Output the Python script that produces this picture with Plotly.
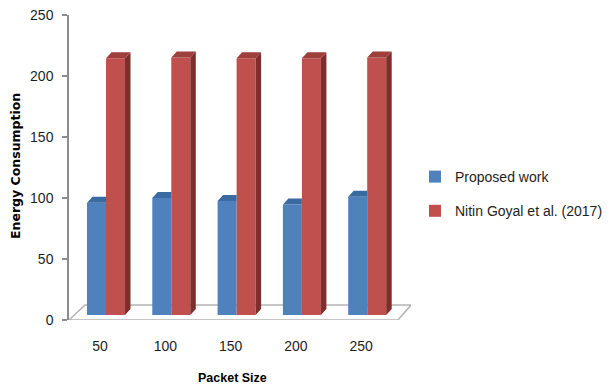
import plotly.graph_objects as go

# ---- data -------------------------------------------------------------
categories = ["50", "100", "150", "200", "250"]
proposed_work = [92, 96, 93.5, 90.5, 97]
goyal_2017 = [210.5, 211, 210.5, 210.5, 211]
y_ticks = [0, 50, 100, 150, 200, 250]

# ---- canvas / plot geometry ------------------------------------------
W, H = 608, 389
L, R, T, B = 69, 197, 15, 69
plot_w = W - L - R
plot_h = H - T - B

px_per_cat = 65.3                  # horizontal distance between groups
x_min = -37 / px_per_cat           # first group sits 37 px right of the value axis
x_max = x_min + plot_w / px_per_cat
px_per_unit = plot_h / 250.0

bar_w = 19 / px_per_cat            # width of each column face
depth_x = 5.5 / px_per_cat         # pseudo-3D depth (horizontal)
depth_y = 6 / px_per_unit          # pseudo-3D depth (vertical)
base_lift = 5 / px_per_unit        # columns stand slightly behind the floor's front edge
label_shift = 6 / px_per_cat       # category labels sit on the front edge

BLUE, BLUE_TOP = "#4F81BD", "#3A6AA2"
RED, RED_TOP, RED_SIDE = "#C0504D", "#9E3F3C", "#7D2F2D"
AXIS_GREY = "#8C8C8C"
FLOOR_GREY = "#B4B4B4"
TEXT = "#1E1E1E"

idx = list(range(len(categories)))


def px_to_paper(px, py):
    return (px - L) / plot_w, (H - B - py) / plot_h


def polys(builder, values):
    xs, ys = [], []
    for i, v in zip(idx, values):
        px, py = builder(i, v)
        xs += px + [px[0], None]
        ys += py + [py[0], None]
    return xs, ys


def blue_top(i, v):
    x0, x1 = i - bar_w, i
    return [x0, x0 + depth_x, x1, x1], [v, v + depth_y, v + depth_y, v]


def red_top(i, v):
    x0, x1 = i, i + bar_w
    return [x0, x0 + depth_x, x1 + depth_x, x1], [v, v + depth_y, v + depth_y, v]


def red_side(i, v):
    x1 = i + bar_w
    return [x1, x1 + depth_x, x1 + depth_x, x1], [0, depth_y, v + depth_y, v]


fig = go.Figure()

# front faces of the columns
fig.add_trace(go.Bar(
    x=idx, y=proposed_work, width=bar_w, offset=-bar_w,
    marker=dict(color=BLUE, line=dict(width=0)),
    name="Proposed work", legendgroup="a",
))
fig.add_trace(go.Bar(
    x=idx, y=goyal_2017, width=bar_w, offset=0,
    marker=dict(color=RED, line=dict(width=0)),
    name="Nitin Goyal et al. (2017)", legendgroup="b",
))

# depth faces
bx, by = polys(blue_top, proposed_work)
fig.add_trace(go.Scatter(x=bx, y=by, fill="toself", fillcolor=BLUE_TOP, mode="none",
                         showlegend=False, hoverinfo="skip"))
sx, sy = polys(red_side, goyal_2017)
fig.add_trace(go.Scatter(x=sx, y=sy, fill="toself", fillcolor=RED_SIDE, mode="none",
                         showlegend=False, hoverinfo="skip"))
tx, ty = polys(red_top, goyal_2017)
fig.add_trace(go.Scatter(x=tx, y=ty, fill="toself", fillcolor=RED_TOP, mode="none",
                         showlegend=False, hoverinfo="skip"))

# floor of the 3D box (in value-axis units)
back_y = 15 / px_per_unit
fx0, fx1 = x_min, x_min + 329 / px_per_cat
bx0, bx1 = x_min + 16 / px_per_cat, x_max
floor_path = (f"M{fx0},0 L{fx1},0 L{bx1},{back_y} L{bx0},{back_y} Z")

fig.update_layout(
    width=W, height=H,
    margin=dict(l=L, r=R, t=T, b=B, pad=0, autoexpand=False),
    paper_bgcolor="white", plot_bgcolor="white",
    barmode="overlay",
    showlegend=True,
    legend=dict(
        x=px_to_paper(415, 0)[0], xanchor="left",
        y=px_to_paper(0, 161)[1], yanchor="top",
        font=dict(family="Liberation Sans", size=14, color=TEXT),
        tracegroupgap=13, bgcolor="rgba(0,0,0,0)",
    ),
    xaxis=dict(
        range=[x_min, x_max], showgrid=False, zeroline=False, showline=False,
        tickmode="array", tickvals=[i - label_shift for i in idx], ticktext=categories,
        ticks="", ticklabelstandoff=16,
        tickfont=dict(family="Liberation Sans", size=14, color=TEXT),
        fixedrange=True,
    ),
    yaxis=dict(
        range=[-base_lift, 250 - base_lift], visible=False, fixedrange=True,
    ),
    yaxis2=dict(
        range=[0, 250], overlaying="y", side="left", anchor="x",
        tickmode="array", tickvals=y_ticks,
        showgrid=False, zeroline=False,
        showline=True, linecolor=AXIS_GREY, linewidth=1.5,
        ticks="outside", ticklen=5, tickcolor=AXIS_GREY, tickwidth=1.5,
        ticklabelstandoff=6,
        tickfont=dict(family="Liberation Sans", size=14, color=TEXT),
        fixedrange=True,
    ),
    shapes=[dict(type="path", path=floor_path, xref="x", yref="y2",
                 line=dict(color=FLOOR_GREY, width=1.5), fillcolor="rgba(0,0,0,0)",
                 layer="below")],
    annotations=[
        dict(text="Energy Consumption", textangle=-90,
             x=px_to_paper(16, 0)[0], y=px_to_paper(0, 166)[1],
             xref="paper", yref="paper", xanchor="center", yanchor="middle",
             showarrow=False,
             font=dict(family="DejaVu Sans", size=12.5, color="black", weight="bold")),
        dict(text="Packet Size",
             x=px_to_paper(232, 0)[0], y=px_to_paper(0, 378)[1],
             xref="paper", yref="paper", xanchor="center", yanchor="middle",
             showarrow=False,
             font=dict(family="Liberation Sans", size=12.5, color="black", weight="bold")),
    ],
)

fig.write_html("out.html")
